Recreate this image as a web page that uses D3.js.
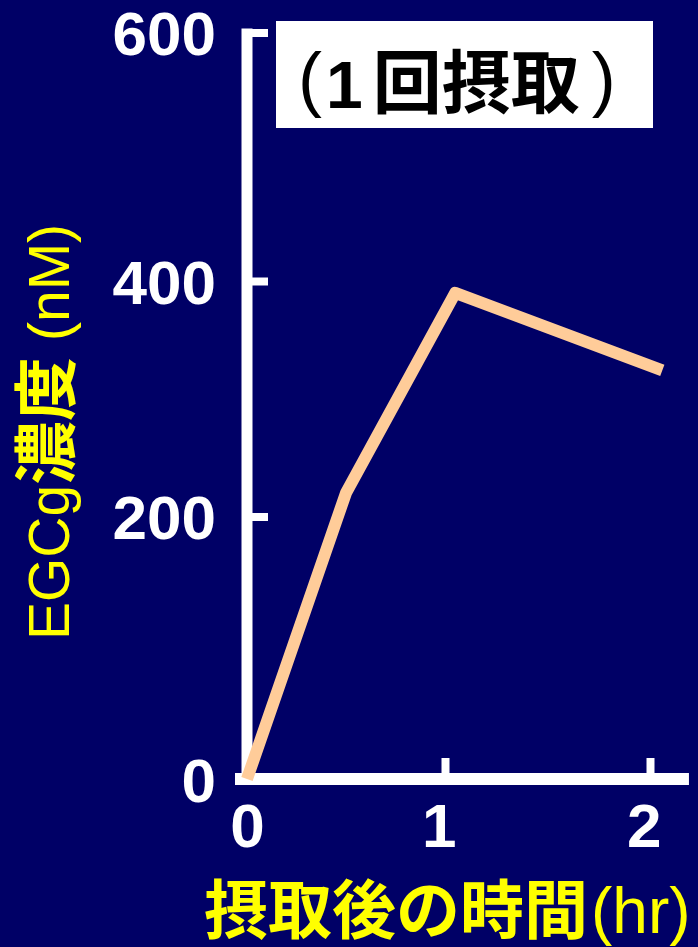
<!DOCTYPE html>
<html>
<head>
<meta charset="utf-8">
<script src="https://cdn.jsdelivr.net/npm/d3@7"></script>
<style>
  body { margin: 0; background: #000066; }
</style>
</head>
<body>
<script>
// values
const timeHr = [0, 0.5, 1.05, 2.06];
const egcgNM = [0, 220, 390, 324];
const xTicks = [0, 1, 2];
const yTicks = [0, 200, 400, 600];
const titleText = ["(", "1", "回摂取", ")"];
const xLabel = ["摂取後の時間", "(hr)"];
const yLabel = ["EGCg", "濃度", " (nM)"];

const W = 698, H = 947;
const latin = "'Liberation Sans', Arial, sans-serif";
const cjk = "'Noto Sans CJK JP', sans-serif";

const svg = d3.select("body").append("svg")
  .attr("width", W)
  .attr("height", H);

svg.append("rect")
  .attr("width", W)
  .attr("height", H)
  .attr("fill", "#000066");

// the original axis is hand drawn, ticks are not quite evenly spaced
const x = d3.scaleLinear().domain([0, 1, 2]).range([247, 445, 650]);
const y = d3.scaleLinear().domain([0, 200, 400, 600]).range([779, 516.5, 281, 32.5]);

// y axis
const yAxis = svg.append("g")
  .attr("transform", `translate(${x(0)},0)`)
  .call(d3.axisLeft(y).tickValues(yTicks).tickSizeInner(-21).tickSizeOuter(0).tickPadding(31));
yAxis.select(".domain").remove();
yAxis.selectAll("line").attr("stroke", "#fff").attr("stroke-width", 8);
yAxis.selectAll("text")
  .attr("fill", "#fff")
  .attr("font-family", latin)
  .attr("font-weight", "bold")
  .attr("font-size", 62)
  .attr("dy", "0.36em");

// x axis
const xAxis = svg.append("g")
  .attr("transform", `translate(0,${y(0)})`)
  .call(d3.axisBottom(x).tickValues(xTicks).tickSizeInner(-21).tickSizeOuter(0).tickPadding(24).tickFormat(d3.format("d")));
xAxis.select(".domain").remove();
xAxis.selectAll("line").attr("stroke", "#fff").attr("stroke-width", 8);
xAxis.selectAll("text")
  .attr("fill", "#fff")
  .attr("font-family", latin)
  .attr("font-weight", "bold")
  .attr("font-size", 62)
  .attr("dx", d => d === 0 ? 0 : "-0.1em");

// axis lines
svg.append("line")
  .attr("x1", x(0)).attr("x2", x(0))
  .attr("y1", y(600) - 4).attr("y2", y(0))
  .attr("stroke", "#fff")
  .attr("stroke-width", 11);

svg.append("line")
  .attr("x1", x(0) - 12).attr("x2", x(2.19))
  .attr("y1", y(0)).attr("y2", y(0))
  .attr("stroke", "#fff")
  .attr("stroke-width", 12);

// title box
svg.append("rect")
  .attr("x", 276).attr("y", 21)
  .attr("width", 377).attr("height", 107)
  .attr("fill", "#fff");

const title = svg.append("text")
  .attr("x", 298)
  .attr("y", 103)
  .attr("fill", "#000");
title.append("tspan")
  .attr("font-family", latin).attr("font-size", 72)
  .text(titleText[0]);
title.append("tspan")
  .attr("font-family", latin).attr("font-weight", "bold").attr("font-size", 66)
  .attr("dx", 4).attr("dy", 5)
  .text(titleText[1]);
title.append("tspan")
  .attr("font-family", cjk).attr("font-weight", "bold").attr("font-size", 69)
  .attr("dx", 10)
  .text(titleText[2]);
title.append("tspan")
  .attr("font-family", latin).attr("font-size", 72)
  .attr("dx", 12).attr("dy", -5)
  .text(titleText[3]);

// x label
const xl = svg.append("text")
  .attr("x", 204)
  .attr("y", 933)
  .attr("fill", "#ffff00")
  .attr("font-size", 64);
xl.append("tspan").attr("font-family", cjk).attr("font-weight", "bold").text(xLabel[0]);
xl.append("tspan").attr("font-family", latin).attr("dx", 3).text(xLabel[1]);

// y label
const yl = svg.append("text")
  .attr("transform", "translate(69,432) rotate(-90)")
  .attr("text-anchor", "middle")
  .attr("fill", "#ffff00");
yl.append("tspan").attr("font-family", latin).attr("font-size", 57).text(yLabel[0]);
yl.append("tspan").attr("font-family", cjk).attr("font-weight", "bold").attr("font-size", 64).text(yLabel[1]);
yl.append("tspan").attr("font-family", latin).attr("font-size", 57).text(yLabel[2]);

// concentration line
const line = d3.line()
  .x((d, i) => x(timeHr[i]))
  .y(d => y(d));

svg.append("path")
  .datum(egcgNM)
  .attr("fill", "none")
  .attr("stroke", "#ffcc99")
  .attr("stroke-width", 12)
  .attr("stroke-linejoin", "round")
  .attr("d", line);
</script>
</body>
</html>
